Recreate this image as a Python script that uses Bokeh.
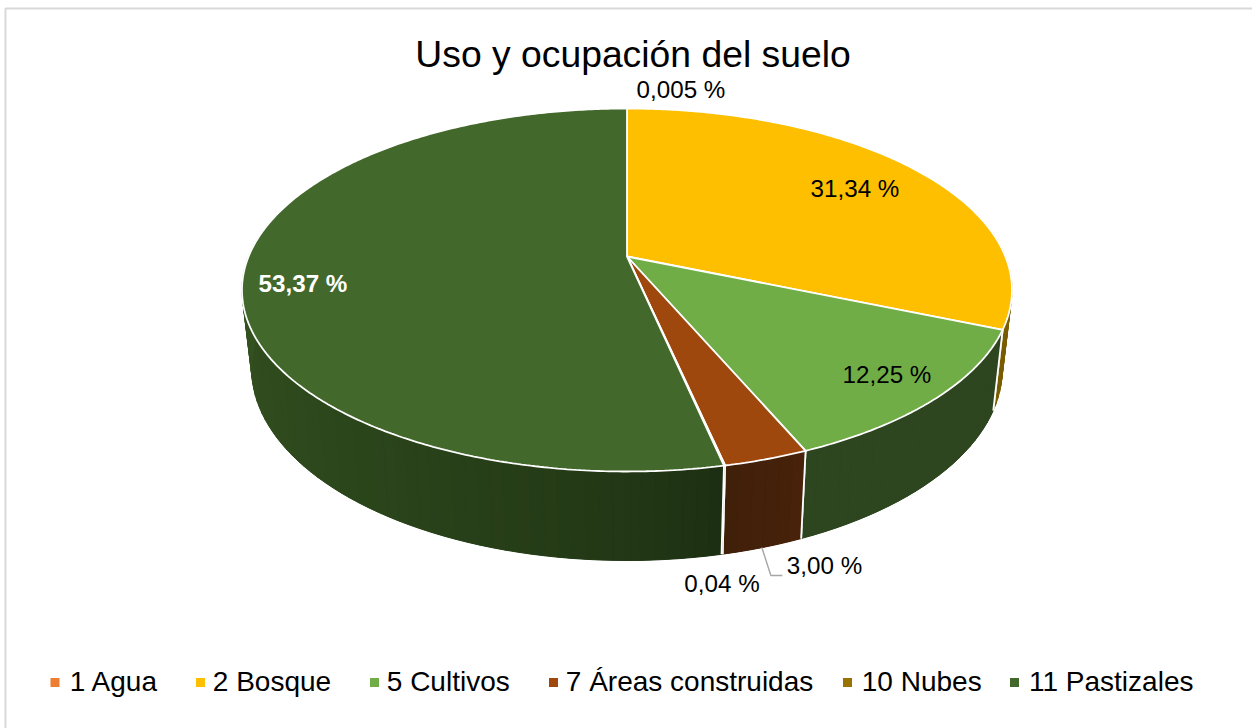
import numpy as np
from bokeh.plotting import figure
from bokeh.embed import file_html
from bokeh.resources import INLINE
from bokeh.core.properties import value
from bokeh.models import Range1d

# ---- data
categories = ["1 Agua", "2 Bosque", "5 Cultivos", "7 Áreas construidas", "10 Nubes", "11 Pastizales"]
shares = [0.005, 31.34, 12.25, 3.00, 0.04, 53.37]
top_colors = ["#ED7D31", "#FDBF00", "#70AD47", "#9E480E", "#997300", "#43682B"]
side_start = ["#7a3d18", "#7a5c00", "#2d461f", "#4a220a", "#4a3800", "#1b2d11"]
side_end = ["#7a3d18", "#7a5c00", "#2d461f", "#40200a", "#4a3800", "#416529"]
legend_sq_x = [54.5, 200, 374, 553, 847, 1014]
legend_tx_x = [69.3, 212.3, 386.3, 565.3, 861.3, 1028.5]
labels = ["0,005 %", "31,34 %", "12,25 %", "3,00 %", "0,04 %", "53,37 %"]
label_x = [680.5, 854.5, 886.5, 824, 721.5, 302.5]
label_y = [89, 188, 374, 565, 583, 283]
label_col = ["#000000"] * 5 + ["#ffffff"]
label_style = ["normal"] * 5 + ["bold"]

# ---- projection of the disc (perspective view)
CX, CY = 626.5, 256.0
A, B, K = 175.3, 378.4, 0.1846
S, YB, AB = 0.975, 332.5, 185.5
FONT = "Liberation Sans"


def top(t):
    w = 1 + K * np.cos(t)
    return CX + B * np.sin(t) / w, CY - A * np.cos(t) / w


def bottom(t):
    w = 1 + K * np.cos(t)
    return CX + S * B * np.sin(t) / w, YB - AB * np.cos(t) / w


def mix(c1, c2, f):
    a = [int(c1[i:i + 2], 16) for i in (1, 3, 5)]
    b = [int(c2[i:i + 2], 16) for i in (1, 3, 5)]
    return "#%02x%02x%02x" % tuple(int(round(u + (v - u) * f)) for u, v in zip(a, b))


p = figure(width=1252, height=728, output_backend="svg", toolbar_location=None,
           x_range=Range1d(0, 1252), y_range=Range1d(728, 0), min_border=0,
           outline_line_color=None, background_fill_color="#ffffff", border_fill_color="#ffffff")
p.axis.visible = False
p.grid.visible = False

# frame: only the top and left edges show in the window
p.line([5, 5, 1252], [728, 8, 8], line_color="#d9d9d9", line_width=2)

total = float(sum(shares))
edges = np.concatenate([[0], np.cumsum(shares)]) / total * 2 * np.pi
HALF = np.pi / 2 * 0.8

# sides: strips with shade varying around the rim
for i in range(len(shares)):
    a0, a1 = edges[i], edges[i + 1]
    lo, hi = max(a0, HALF), min(a1, 2 * np.pi - HALF)
    if hi <= lo:
        continue
    n = max(1, int((hi - lo) / 0.03))
    ts = np.linspace(lo, hi, n + 1)
    xs, ys, cs = [], [], []
    for k in range(n):
        u0, u1 = ts[k], ts[k + 1]
        x0, y0 = top(u0)
        x1, y1 = top(u1)
        x2, y2 = bottom(u1)
        x3, y3 = bottom(u0)
        xs.append([x0, x1, x2, x3])
        ys.append([y0, y1, y2, y3])
        f = (0.5 * (u0 + u1) - a0) / (a1 - a0)
        cs.append(mix(side_start[i], side_end[i], f ** 0.62))
    # base coat so that the seams between strips do not show
    xb, yb = top(ts)
    xc, yc = bottom(ts[::-1])
    p.patch(list(np.r_[xb, xc]), list(np.r_[yb, yc]), fill_color=cs[len(cs) // 2], line_color=None)
    p.patches(xs, ys, fill_color=cs, line_color=cs, line_width=1)
    # white separators on the rim at the slice ends
    for a in (a0, a1):
        if HALF < a < 2 * np.pi - HALF:
            tx, ty = top(a)
            bx, by = bottom(a)
            p.line([tx, bx], [ty, by], line_color="#ffffff", line_width=1.8)

# top faces
for i in range(len(shares)):
    a0, a1 = edges[i], edges[i + 1]
    ts = np.linspace(a0, a1, max(3, int((a1 - a0) / 0.01)))
    x, y = top(ts)
    p.patch(list(np.r_[CX, x, CX]), list(np.r_[CY, y, CY]), fill_color=top_colors[i],
            line_color="#ffffff", line_width=1.8)

# leader line of the 3,00 % label
mid = 0.5 * (edges[3] + edges[4])
lx, ly = bottom(mid)
p.line([lx - 1, lx + 8, lx + 19.5], [ly, label_y[3] + 10, label_y[3] + 10], line_color="#a6a6a6", line_width=1.4)

# labels
for s, x, y, c, st in zip(labels, label_x, label_y, label_col, label_style):
    p.text([x], [y], text=[s], text_font=value(FONT), text_font_size="24.2px", text_color=c,
           text_font_style=st, text_align="center", text_baseline="middle")

# title
p.text([632.5], [53], text=["Uso y ocupación del suelo"], text_font=value(FONT), text_font_size="37.3px",
       text_color="#000000", text_align="center", text_baseline="middle")

# legend
p.scatter(legend_sq_x, [682] * 6, marker="square", size=9, fill_color=top_colors, line_color=None)
p.text(legend_tx_x, [681] * 6, text=categories, text_font=value(FONT), text_font_size="28px",
       text_color="#000000", text_align="left", text_baseline="middle")

open("out.html", "w").write(file_html(p, INLINE))
